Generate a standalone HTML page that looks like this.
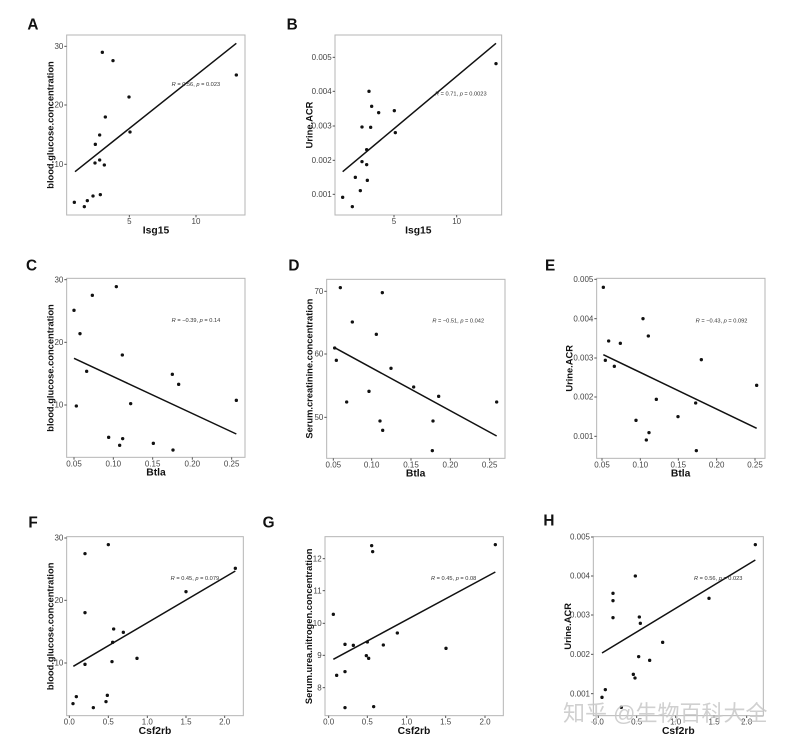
<!DOCTYPE html>
<html><head><meta charset="utf-8"><style>
html,body{margin:0;padding:0;background:#fff;}
svg{display:block;font-family:"Liberation Sans",Arial,sans-serif;}
.box{fill:none;stroke:#b5b5b5;stroke-width:3;}
.tk{stroke:#555;stroke-width:3;}
.tl{font-size:24px;fill:#444;}
.ti{font-size:31px;font-weight:bold;fill:#111;}
.yt{font-size:28px;font-weight:bold;fill:#111;}
.lt{font-size:46px;font-weight:bold;fill:#111;}
.rt{font-size:17px;fill:#333;}
.fl{stroke:#111;stroke-width:4.5;}
circle{fill:#111;}
</style></head><body>
<svg width="802" height="747" viewBox="0 0 802 747" xmlns="http://www.w3.org/2000/svg">

<!-- A -->
<g transform="translate(0,0) scale(0.33333)">
<text class="lt" x="82" y="88">A</text>
<rect class="box" x="200" y="105" width="535" height="540"/>
<g class="tk"><line x1="193" x2="200" y1="139" y2="139"/><line x1="193" x2="200" y1="315" y2="315"/><line x1="193" x2="200" y1="493" y2="493"/>
<line x1="388" x2="388" y1="645" y2="652"/><line x1="588" x2="588" y1="645" y2="652"/></g>
<g class="tl" text-anchor="end"><text x="190" y="147">30</text><text x="190" y="323">20</text><text x="190" y="501">10</text></g>
<g class="tl" text-anchor="middle"><text x="388" y="672">5</text><text x="588" y="672">10</text></g>
<text class="ti" x="468" y="700" text-anchor="middle">Isg15</text>
<text class="yt" transform="translate(160,375) rotate(-90)" text-anchor="middle">blood.glucose.concentration</text>
<line class="fl" x1="225" y1="515" x2="709" y2="130"/>
<text class="rt" x="515" y="258"><tspan font-style="italic">R</tspan> = 0.56, <tspan font-style="italic">p</tspan> = 0.023</text>
<g><circle cx="223" cy="607" r="5"/><circle cx="253" cy="620" r="5"/><circle cx="262" cy="602" r="5"/><circle cx="279" cy="588" r="5"/><circle cx="301" cy="584" r="5"/><circle cx="285" cy="489" r="5"/><circle cx="299" cy="480" r="5"/><circle cx="313" cy="495" r="5"/><circle cx="286" cy="433" r="5"/><circle cx="299" cy="405" r="5"/><circle cx="316" cy="351" r="5"/><circle cx="307" cy="157" r="5"/><circle cx="339" cy="182" r="5"/><circle cx="387" cy="291" r="5"/><circle cx="390" cy="396" r="5"/><circle cx="709" cy="225" r="5"/></g>
</g>

<!-- B -->
<g transform="translate(270,0) scale(0.33333)">
<text class="lt" x="50" y="88">B</text>
<rect class="box" x="195" y="105" width="500" height="540"/>
<g class="tk"><line x1="188" x2="195" y1="172" y2="172"/><line x1="188" x2="195" y1="274" y2="274"/><line x1="188" x2="195" y1="378" y2="378"/><line x1="188" x2="195" y1="481" y2="481"/><line x1="188" x2="195" y1="583" y2="583"/>
<line x1="372" x2="372" y1="645" y2="652"/><line x1="560" x2="560" y1="645" y2="652"/></g>
<g class="tl" text-anchor="end"><text x="185" y="180">0.005</text><text x="185" y="282">0.004</text><text x="185" y="386">0.003</text><text x="185" y="489">0.002</text><text x="185" y="591">0.001</text></g>
<g class="tl" text-anchor="middle"><text x="372" y="672">5</text><text x="560" y="672">10</text></g>
<text class="ti" x="445" y="700" text-anchor="middle">Isg15</text>
<text class="yt" transform="translate(128,375) rotate(-90)" text-anchor="middle">Urine.ACR</text>
<line class="fl" x1="218" y1="515" x2="678" y2="130"/>
<text class="rt" x="495" y="286"><tspan font-style="italic">R</tspan> = 0.71, <tspan font-style="italic">p</tspan> = 0.0023</text>
<g><circle cx="218" cy="592" r="5"/><circle cx="247" cy="620" r="5"/><circle cx="256" cy="532" r="5"/><circle cx="271" cy="572" r="5"/><circle cx="276" cy="485" r="5"/><circle cx="276" cy="381" r="5"/><circle cx="290" cy="449" r="5"/><circle cx="290" cy="494" r="5"/><circle cx="292" cy="541" r="5"/><circle cx="297" cy="274" r="5"/><circle cx="302" cy="382" r="5"/><circle cx="305" cy="319" r="5"/><circle cx="326" cy="338" r="5"/><circle cx="373" cy="332" r="5"/><circle cx="376" cy="398" r="5"/><circle cx="678" cy="191" r="5"/></g>
</g>

<!-- C -->
<g transform="translate(0,250) scale(0.33333)">
<text class="lt" x="78" y="62">C</text>
<rect class="box" x="200" y="85" width="535" height="537"/>
<g class="tk"><line x1="193" x2="200" y1="89" y2="89"/><line x1="193" x2="200" y1="277" y2="277"/><line x1="193" x2="200" y1="465" y2="465"/>
<line x1="222" x2="222" y1="622" y2="629"/><line x1="340" x2="340" y1="622" y2="629"/><line x1="458" x2="458" y1="622" y2="629"/><line x1="577" x2="577" y1="622" y2="629"/><line x1="695" x2="695" y1="622" y2="629"/></g>
<g class="tl" text-anchor="end"><text x="190" y="97">30</text><text x="190" y="285">20</text><text x="190" y="473">10</text></g>
<g class="tl" text-anchor="middle"><text x="222" y="649">0.05</text><text x="340" y="649">0.10</text><text x="458" y="649">0.15</text><text x="577" y="649">0.20</text><text x="695" y="649">0.25</text></g>
<text class="ti" x="468" y="677" text-anchor="middle">Btla</text>
<text class="yt" transform="translate(160,354) rotate(-90)" text-anchor="middle">blood.glucose.concentration</text>
<line class="fl" x1="222" y1="325" x2="709" y2="552"/>
<text class="rt" x="515" y="216"><tspan font-style="italic">R</tspan> = −0.39, <tspan font-style="italic">p</tspan> = 0.14</text>
<g><circle cx="222" cy="181" r="5"/><circle cx="240" cy="251" r="5"/><circle cx="229" cy="468" r="5"/><circle cx="260" cy="364" r="5"/><circle cx="277" cy="136" r="5"/><circle cx="349" cy="110" r="5"/><circle cx="367" cy="315" r="5"/><circle cx="326" cy="562" r="5"/><circle cx="359" cy="586" r="5"/><circle cx="368" cy="566" r="5"/><circle cx="392" cy="461" r="5"/><circle cx="460" cy="580" r="5"/><circle cx="517" cy="373" r="5"/><circle cx="519" cy="600" r="5"/><circle cx="536" cy="403" r="5"/><circle cx="709" cy="451" r="5"/></g>
</g>

<!-- D -->
<g transform="translate(270,250) scale(0.33333)">
<text class="lt" x="55" y="62">D</text>
<rect class="box" x="170" y="88" width="535" height="537"/>
<g class="tk"><line x1="163" x2="170" y1="124" y2="124"/><line x1="163" x2="170" y1="312" y2="312"/><line x1="163" x2="170" y1="502" y2="502"/>
<line x1="190" x2="190" y1="625" y2="632"/><line x1="305" x2="305" y1="625" y2="632"/><line x1="423" x2="423" y1="625" y2="632"/><line x1="541" x2="541" y1="625" y2="632"/><line x1="659" x2="659" y1="625" y2="632"/></g>
<g class="tl" text-anchor="end"><text x="160" y="132">70</text><text x="160" y="320">60</text><text x="160" y="510">50</text></g>
<g class="tl" text-anchor="middle"><text x="190" y="652">0.05</text><text x="305" y="652">0.10</text><text x="423" y="652">0.15</text><text x="541" y="652">0.20</text><text x="659" y="652">0.25</text></g>
<text class="ti" x="437" y="680" text-anchor="middle">Btla</text>
<text class="yt" transform="translate(128,356) rotate(-90)" text-anchor="middle">Serum.creatinine.concentration</text>
<line class="fl" x1="194" y1="293" x2="680" y2="558"/>
<text class="rt" x="487" y="218"><tspan font-style="italic">R</tspan> = −0.51, <tspan font-style="italic">p</tspan> = 0.042</text>
<g><circle cx="194" cy="294" r="5"/><circle cx="199" cy="331" r="5"/><circle cx="211" cy="113" r="5"/><circle cx="230" cy="456" r="5"/><circle cx="247" cy="216" r="5"/><circle cx="297" cy="424" r="5"/><circle cx="319" cy="253" r="5"/><circle cx="330" cy="513" r="5"/><circle cx="337" cy="128" r="5"/><circle cx="338" cy="541" r="5"/><circle cx="363" cy="355" r="5"/><circle cx="431" cy="411" r="5"/><circle cx="487" cy="602" r="5"/><circle cx="489" cy="513" r="5"/><circle cx="506" cy="439" r="5"/><circle cx="680" cy="456" r="5"/></g>
</g>

<!-- E -->
<g transform="translate(530,250) scale(0.33333)">
<text class="lt" x="45" y="62">E</text>
<rect class="box" x="200" y="85" width="505" height="540"/>
<g class="tk"><line x1="193" x2="200" y1="88" y2="88"/><line x1="193" x2="200" y1="206" y2="206"/><line x1="193" x2="200" y1="324" y2="324"/><line x1="193" x2="200" y1="441" y2="441"/><line x1="193" x2="200" y1="559" y2="559"/>
<line x1="216" x2="216" y1="625" y2="632"/><line x1="331" x2="331" y1="625" y2="632"/><line x1="445" x2="445" y1="625" y2="632"/><line x1="560" x2="560" y1="625" y2="632"/><line x1="675" x2="675" y1="625" y2="632"/></g>
<g class="tl" text-anchor="end"><text x="190" y="96">0.005</text><text x="190" y="214">0.004</text><text x="190" y="332">0.003</text><text x="190" y="449">0.002</text><text x="190" y="567">0.001</text></g>
<g class="tl" text-anchor="middle"><text x="216" y="652">0.05</text><text x="331" y="652">0.10</text><text x="445" y="652">0.15</text><text x="560" y="652">0.20</text><text x="675" y="652">0.25</text></g>
<text class="ti" x="452" y="680" text-anchor="middle">Btla</text>
<text class="yt" transform="translate(128,355) rotate(-90)" text-anchor="middle">Urine.ACR</text>
<line class="fl" x1="220" y1="314" x2="680" y2="535"/>
<text class="rt" x="497" y="218"><tspan font-style="italic">R</tspan> = −0.43, <tspan font-style="italic">p</tspan> = 0.092</text>
<g><circle cx="220" cy="112" r="5"/><circle cx="236" cy="273" r="5"/><circle cx="226" cy="331" r="5"/><circle cx="253" cy="349" r="5"/><circle cx="271" cy="280" r="5"/><circle cx="339" cy="206" r="5"/><circle cx="355" cy="258" r="5"/><circle cx="318" cy="511" r="5"/><circle cx="349" cy="570" r="5"/><circle cx="357" cy="548" r="5"/><circle cx="379" cy="448" r="5"/><circle cx="444" cy="500" r="5"/><circle cx="497" cy="459" r="5"/><circle cx="499" cy="602" r="5"/><circle cx="514" cy="329" r="5"/><circle cx="680" cy="406" r="5"/></g>
</g>

<!-- F -->
<g transform="translate(0,505) scale(0.33333)">
<text class="lt" x="85" y="68">F</text>
<rect class="box" x="200" y="95" width="530" height="537"/>
<g class="tk"><line x1="193" x2="200" y1="99" y2="99"/><line x1="193" x2="200" y1="286" y2="286"/><line x1="193" x2="200" y1="474" y2="474"/>
<line x1="208" x2="208" y1="632" y2="639"/><line x1="325" x2="325" y1="632" y2="639"/><line x1="442" x2="442" y1="632" y2="639"/><line x1="558" x2="558" y1="632" y2="639"/><line x1="674" x2="674" y1="632" y2="639"/></g>
<g class="tl" text-anchor="end"><text x="190" y="107">30</text><text x="190" y="294">20</text><text x="190" y="482">10</text></g>
<g class="tl" text-anchor="middle"><text x="208" y="659">0.0</text><text x="325" y="659">0.5</text><text x="442" y="659">1.0</text><text x="558" y="659">1.5</text><text x="674" y="659">2.0</text></g>
<text class="ti" x="465" y="687" text-anchor="middle">Csf2rb</text>
<text class="yt" transform="translate(160,364) rotate(-90)" text-anchor="middle">blood.glucose.concentration</text>
<line class="fl" x1="220" y1="484" x2="706" y2="198"/>
<text class="rt" x="512" y="225"><tspan font-style="italic">R</tspan> = 0.45, <tspan font-style="italic">p</tspan> = 0.079</text>
<g><circle cx="219" cy="596" r="5"/><circle cx="229" cy="575" r="5"/><circle cx="255" cy="146" r="5"/><circle cx="255" cy="323" r="5"/><circle cx="255" cy="478" r="5"/><circle cx="280" cy="608" r="5"/><circle cx="318" cy="590" r="5"/><circle cx="322" cy="571" r="5"/><circle cx="325" cy="119" r="5"/><circle cx="336" cy="470" r="5"/><circle cx="338" cy="412" r="5"/><circle cx="341" cy="372" r="5"/><circle cx="370" cy="382" r="5"/><circle cx="411" cy="460" r="5"/><circle cx="558" cy="260" r="5"/><circle cx="706" cy="190" r="5"/></g>
</g>

<!-- G -->
<g transform="translate(270,505) scale(0.33333)">
<text class="lt" x="-22" y="68">G</text>
<rect class="box" x="165" y="95" width="535" height="537"/>
<g class="tk"><line x1="158" x2="165" y1="161" y2="161"/><line x1="158" x2="165" y1="257" y2="257"/><line x1="158" x2="165" y1="355" y2="355"/><line x1="158" x2="165" y1="451" y2="451"/><line x1="158" x2="165" y1="548" y2="548"/>
<line x1="176" x2="176" y1="632" y2="639"/><line x1="292" x2="292" y1="632" y2="639"/><line x1="410" x2="410" y1="632" y2="639"/><line x1="527" x2="527" y1="632" y2="639"/><line x1="645" x2="645" y1="632" y2="639"/></g>
<g class="tl" text-anchor="end"><text x="155" y="169">12</text><text x="155" y="265">11</text><text x="155" y="363">10</text><text x="155" y="459">9</text><text x="155" y="556">8</text></g>
<g class="tl" text-anchor="middle"><text x="176" y="659">0.0</text><text x="292" y="659">0.5</text><text x="410" y="659">1.0</text><text x="527" y="659">1.5</text><text x="645" y="659">2.0</text></g>
<text class="ti" x="432" y="687" text-anchor="middle">Csf2rb</text>
<text class="yt" transform="translate(126,364) rotate(-90)" text-anchor="middle">Serum.urea.nitrogen.concentration</text>
<line class="fl" x1="190" y1="463" x2="676" y2="201"/>
<text class="rt" x="483" y="225"><tspan font-style="italic">R</tspan> = 0.45, <tspan font-style="italic">p</tspan> = 0.08</text>
<g><circle cx="190" cy="328" r="5"/><circle cx="200" cy="511" r="5"/><circle cx="225" cy="500" r="5"/><circle cx="225" cy="418" r="5"/><circle cx="225" cy="608" r="5"/><circle cx="250" cy="421" r="5"/><circle cx="289" cy="452" r="5"/><circle cx="292" cy="411" r="5"/><circle cx="296" cy="460" r="5"/><circle cx="305" cy="122" r="5"/><circle cx="308" cy="140" r="5"/><circle cx="311" cy="605" r="5"/><circle cx="340" cy="420" r="5"/><circle cx="382" cy="384" r="5"/><circle cx="528" cy="430" r="5"/><circle cx="676" cy="119" r="5"/></g>
</g>

<!-- H -->
<g transform="translate(530,505) scale(0.33333)">
<text class="lt" x="40" y="62">H</text>
<rect class="box" x="190" y="95" width="510" height="537"/>
<g class="tk"><line x1="183" x2="190" y1="96" y2="96"/><line x1="183" x2="190" y1="213" y2="213"/><line x1="183" x2="190" y1="330" y2="330"/><line x1="183" x2="190" y1="448" y2="448"/><line x1="183" x2="190" y1="566" y2="566"/>
<line x1="205" x2="205" y1="632" y2="639"/><line x1="320" x2="320" y1="632" y2="639"/><line x1="437" x2="437" y1="632" y2="639"/><line x1="552" x2="552" y1="632" y2="639"/><line x1="650" x2="650" y1="632" y2="639"/></g>
<g class="tl" text-anchor="end"><text x="180" y="104">0.005</text><text x="180" y="221">0.004</text><text x="180" y="338">0.003</text><text x="180" y="456">0.002</text><text x="180" y="574">0.001</text></g>
<g class="tl" text-anchor="middle"><text x="205" y="659">0.0</text><text x="320" y="659">0.5</text><text x="437" y="659">1.0</text><text x="552" y="659">1.5</text><text x="650" y="659">2.0</text></g>
<text class="ti" x="445" y="687" text-anchor="middle">Csf2rb</text>
<text class="yt" transform="translate(123,364) rotate(-90)" text-anchor="middle">Urine.ACR</text>
<line class="fl" x1="216" y1="444" x2="676" y2="165"/>
<text class="rt" x="492" y="225"><tspan font-style="italic">R</tspan> = 0.56, <tspan font-style="italic">p</tspan> = 0.023</text>
<g><circle cx="216" cy="577" r="5"/><circle cx="226" cy="554" r="5"/><circle cx="249" cy="265" r="5"/><circle cx="249" cy="287" r="5"/><circle cx="249" cy="338" r="5"/><circle cx="274" cy="607" r="5"/><circle cx="310" cy="508" r="5"/><circle cx="315" cy="519" r="5"/><circle cx="316" cy="213" r="5"/><circle cx="328" cy="336" r="5"/><circle cx="331" cy="355" r="5"/><circle cx="326" cy="455" r="5"/><circle cx="359" cy="466" r="5"/><circle cx="398" cy="412" r="5"/><circle cx="537" cy="280" r="5"/><circle cx="676" cy="119" r="5"/></g>
</g>

<text x="563" y="721" font-family="'Liberation Sans','Noto Sans CJK SC',sans-serif" font-size="22" fill="#c8c8c8" fill-opacity="0.85">知乎 @生物百科大全</text>
</svg>
</body></html>
